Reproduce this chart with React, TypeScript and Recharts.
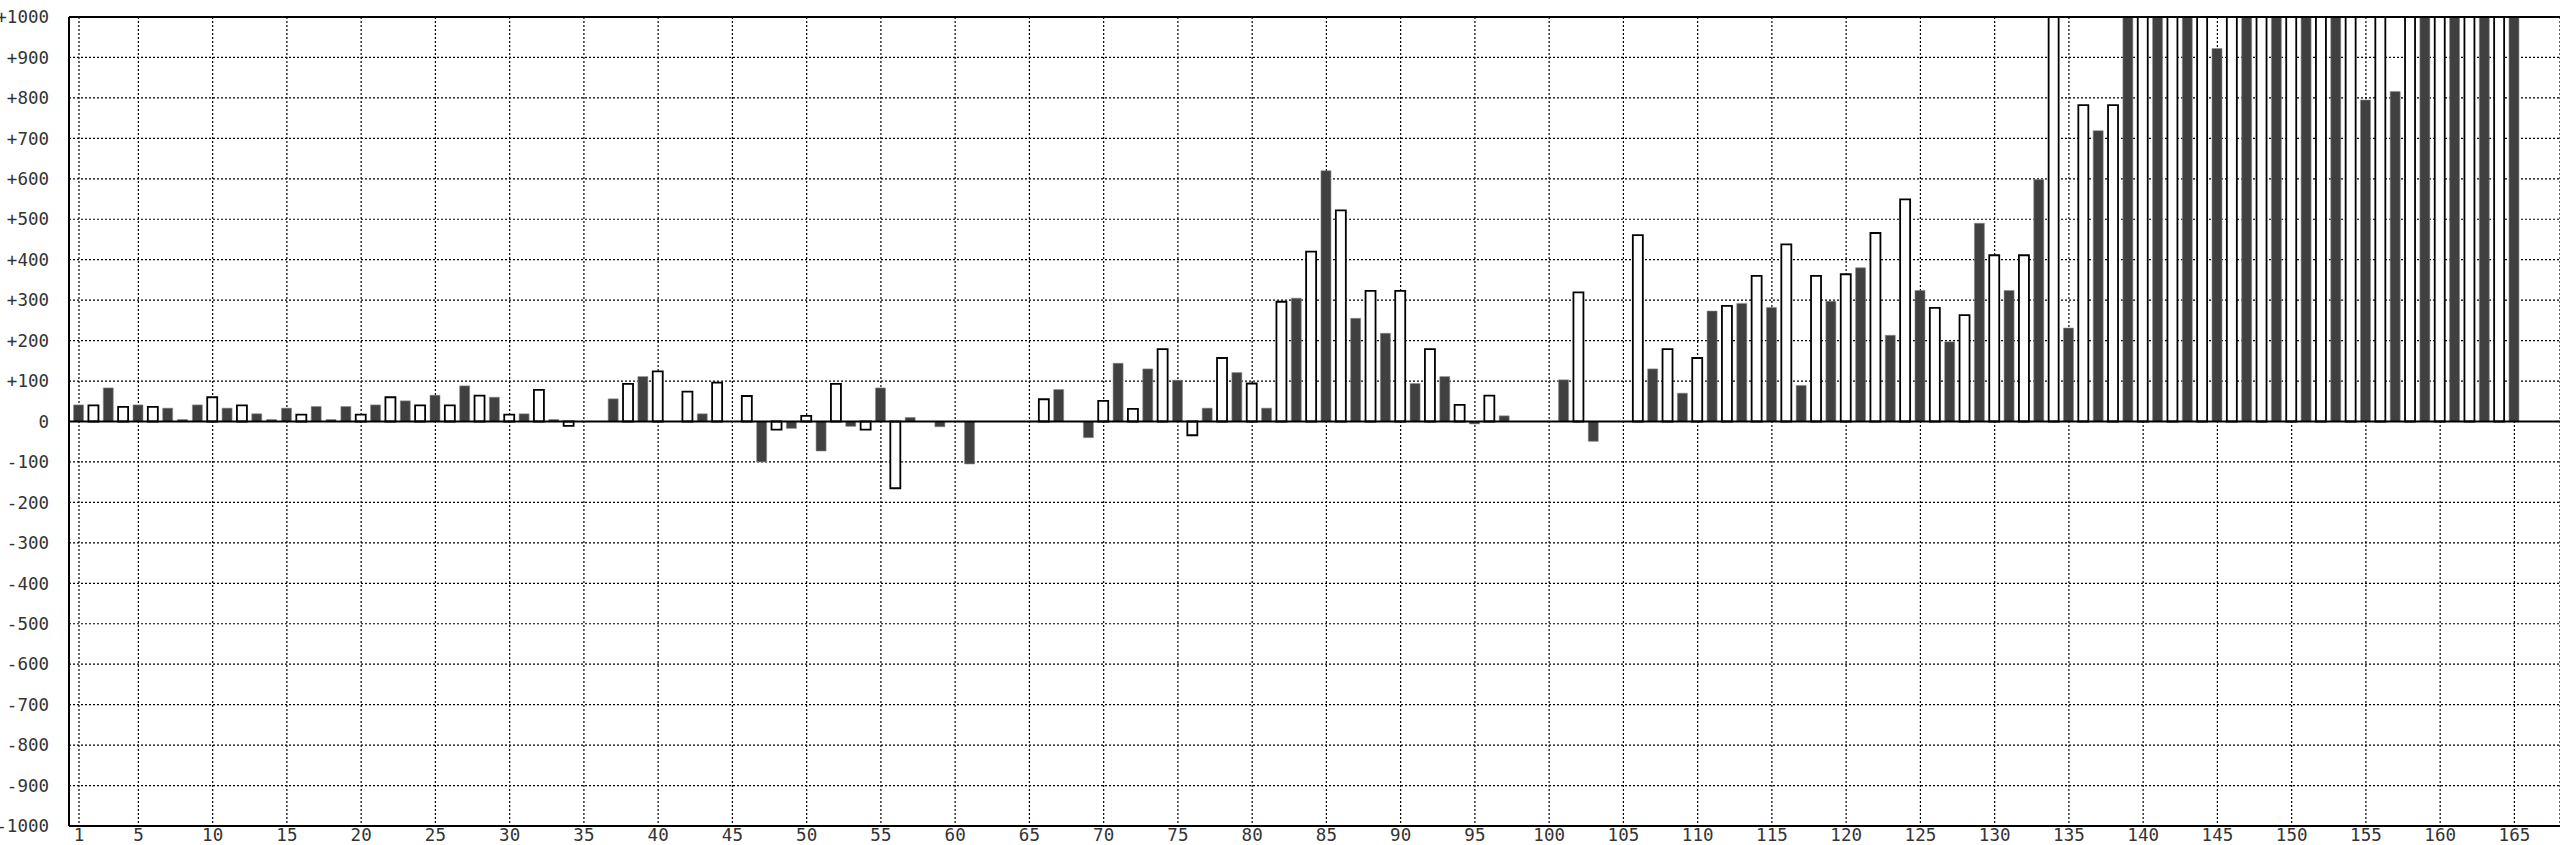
import React from 'react';
import { BarChart, Bar, XAxis, YAxis, CartesianGrid, ReferenceLine, Cell } from 'recharts';

// categories 1..165
const days: number[] = Array.from({ length: 165 }, (_, i) => i + 1);

// bar values (values above +1000 are off the scale and clipped in the chart)
const values: (number | null)[] = [
  41, 40, 83, 36, 41, 36, 33, 5, 41, 60,
  33, 40, 19, 5, 33, 17, 37, 5, 37, 17,
  41, 60, 51, 40, 65, 40, 88, 64, 60, 17,
  19, 78, 5, -11, null, null, 56, 93, 111, 124,
  null, 74, 19, 96, null, 63, -100, -20, -17, 14,
  -73, 93, -12, -20, 83, -165, 10, null, -13, null,
  -105, null, null, null, null, 55, 79, null, -40, 51,
  144, 31, 130, 179, 102, -34, 33, 157, 121, 94,
  33, 296, 305, 420, 620, 522, 255, 323, 218, 323,
  94, 179, 111, 41, -6, 64, 14, null, null, null,
  103, 319, -49, null, null, 461, 130, 179, 70, 157,
  273, 286, 292, 360, 282, 438, 89, 360, 297, 364,
  380, 466, 213, 549, 324, 281, 197, 263, 490, 411,
  324, 411, 598, 1200, 231, 782, 719, 782, 1200, 1200,
  1200, 1200, 1200, 1200, 922, 1200, 1200, 1200, 1200, 1200,
  1200, 1200, 1200, 1200, 795, 1200, 816, 1200, 1200, 1200,
  1200, 1200, 1200, 1200, 1200,
];

// bar style per category: D = filled dark, W = hollow white, - = no bar
const kinds: string[] = [
  'D', 'W', 'D', 'W', 'D', 'W', 'D', 'D', 'D', 'W',
  'D', 'W', 'D', 'D', 'D', 'W', 'D', 'D', 'D', 'W',
  'D', 'W', 'D', 'W', 'D', 'W', 'D', 'W', 'D', 'W',
  'D', 'W', 'D', 'W', '-', '-', 'D', 'W', 'D', 'W',
  '-', 'W', 'D', 'W', '-', 'W', 'D', 'W', 'D', 'W',
  'D', 'W', 'D', 'W', 'D', 'W', 'D', '-', 'D', '-',
  'D', '-', '-', '-', '-', 'W', 'D', '-', 'D', 'W',
  'D', 'W', 'D', 'W', 'D', 'W', 'D', 'W', 'D', 'W',
  'D', 'W', 'D', 'W', 'D', 'W', 'D', 'W', 'D', 'W',
  'D', 'W', 'D', 'W', 'D', 'W', 'D', '-', '-', '-',
  'D', 'W', 'D', '-', '-', 'W', 'D', 'W', 'D', 'W',
  'D', 'W', 'D', 'W', 'D', 'W', 'D', 'W', 'D', 'W',
  'D', 'W', 'D', 'W', 'D', 'W', 'D', 'W', 'D', 'W',
  'D', 'W', 'D', 'W', 'D', 'W', 'D', 'W', 'D', 'W',
  'D', 'W', 'D', 'W', 'D', 'W', 'D', 'W', 'D', 'W',
  'D', 'W', 'D', 'W', 'D', 'W', 'D', 'W', 'D', 'W',
  'D', 'W', 'D', 'W', 'D',
];

const xTicks: number[] = [1, 5, 10, 15, 20, 25, 30, 35, 40, 45, 50, 55, 60, 65, 70, 75, 80, 85, 90, 95, 100, 105, 110, 115, 120, 125, 130, 135, 140, 145, 150, 155, 160, 165];
const yTicks: number[] = [-1000, -900, -800, -700, -600, -500, -400, -300, -200, -100, 0, 100, 200, 300, 400, 500, 600, 700, 800, 900, 1000];

const data = days.map((d, i) => ({ day: d, value: values[i], kind: kinds[i] }));

const fmtY = (v: number) => (v > 0 ? `+${v}` : v < 0 ? `-${Math.abs(v)}` : '0');

const tickStyle = { fontFamily: 'DejaVu Sans Mono', fontSize: 17.5, fill: '#333' };

export default function App() {
  return (
    <div style={{ position: 'absolute', left: 0, top: 0, width: 2560, height: 845, background: '#fff' }}>
      <BarChart
        width={2560}
        height={845}
        data={data}
        margin={{ top: 17, right: 0, bottom: 0, left: 0 }}
        barSize={10}
      >
        <CartesianGrid stroke="#000" strokeDasharray="2 2" strokeWidth={1.2} />
        <XAxis
          dataKey="day"
          type="number"
          domain={[0.3266, 168.07]}
          allowDataOverflow
          ticks={xTicks}
          interval={0}
          tickLine={false}
          tickSize={0}
          tickMargin={3}
          height={19}
          axisLine={{ stroke: '#000', strokeWidth: 2 }}
          tick={tickStyle}
        />
        <YAxis
          type="number"
          domain={[-1000, 1000]}
          allowDataOverflow
          ticks={yTicks}
          interval={0}
          width={69}
          tickLine={false}
          tickSize={0}
          tickMargin={20}
          tickFormatter={fmtY}
          axisLine={{ stroke: '#000', strokeWidth: 2 }}
          tick={tickStyle}
        />
        <Bar dataKey="value" isAnimationActive={false}>
          {data.map((d, i) => (
            <Cell
              key={i}
              fill={d.kind === 'D' ? '#404040' : d.kind === 'W' ? '#ffffff' : 'none'}
              stroke={d.kind === 'D' ? '#8a8a8a' : d.kind === 'W' ? '#000000' : 'none'}
              strokeWidth={d.kind === 'W' ? 1.8 : 0.6}
            />
          ))}
        </Bar>
        <ReferenceLine y={0} stroke="#000" strokeWidth={2} />
        <ReferenceLine y={1000} stroke="#000" strokeWidth={2} />
      </BarChart>
    </div>
  );
}
